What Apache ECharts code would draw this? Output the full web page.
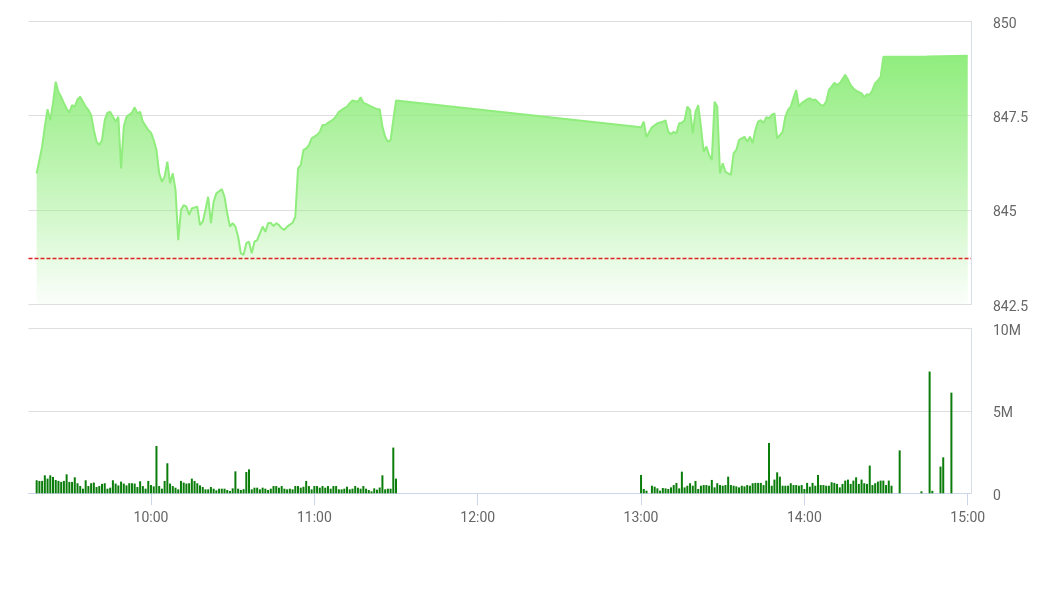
<!DOCTYPE html>
<html>
<head>
<meta charset="utf-8">
<script src="https://cdn.jsdelivr.net/npm/echarts@6/dist/echarts.min.js"></script>
<style>html,body{margin:0;padding:0;background:#fff;}#c{width:1056px;height:593px;}</style>
</head>
<body>
<div id="c"></div>
<script>
// ---- data ----
const prevClose = 843.72;
const priceTimes = ['09:18','09:20','09:21','09:22','09:23','09:24','09:25','09:26','09:27','09:28','09:29','09:30','09:31','09:32','09:33','09:34','09:35','09:36','09:37','09:38','09:39','09:40','09:41','09:42','09:43','09:44','09:45','09:46','09:47','09:48','09:49','09:50','09:51','09:53','09:54','09:55','09:56','09:57','09:59','10:00','10:01','10:02','10:03','10:04','10:05','10:06','10:07','10:08','10:09','10:10','10:11','10:12','10:13','10:14','10:15','10:17','10:18','10:19','10:20','10:21','10:22','10:23','10:24','10:26','10:27','10:28','10:29','10:30','10:31','10:32','10:33','10:34','10:35','10:36','10:37','10:38','10:39','10:40','10:41','10:42','10:43','10:44','10:45','10:46','10:47','10:48','10:49','10:50','10:52','10:53','10:54','10:55','10:56','10:57','10:58','10:59','11:01','11:02','11:03','11:04','11:05','11:07','11:08','11:09','11:10','11:12','11:13','11:14','11:16','11:17','11:18','11:19','11:21','11:23','11:24','11:25','11:26','11:27','11:28','11:29','11:30',
'13:00','13:01','13:02','13:03','13:04','13:06','13:08','13:09','13:10','13:11','13:12','13:13','13:14','13:15','13:16','13:17','13:18','13:19','13:20','13:21','13:22','13:23','13:24','13:25','13:26','13:27','13:28','13:29','13:30','13:31','13:32','13:33','13:34','13:35','13:36','13:37','13:38','13:39','13:40','13:41','13:42','13:43','13:44','13:45','13:46','13:47','13:48','13:49','13:50','13:52','13:53','13:54','13:55','13:56','13:57','13:58','13:59','14:01','14:02','14:03','14:04','14:06','14:07','14:08','14:09','14:10','14:11','14:12','14:13','14:15','14:16','14:17','14:18','14:19','14:21','14:22','14:23','14:24','14:25','14:26','14:27','14:28','14:29','14:45','15:00'];
const priceValues = [845.97,846.68,847.21,847.67,847.38,847.83,848.40,848.13,848.00,847.83,847.69,847.58,847.78,847.74,847.93,848.00,847.87,847.74,847.65,847.52,847.12,846.81,846.72,846.85,847.38,847.58,847.60,847.47,847.34,847.47,846.10,847.21,847.47,847.58,847.72,847.56,847.60,847.34,847.12,847.05,846.85,846.59,845.97,845.75,845.88,846.28,845.71,845.97,845.53,844.20,845.00,845.13,845.09,844.87,845.04,845.09,844.60,844.69,845.00,845.35,844.65,845.22,845.44,845.55,845.35,844.91,844.56,844.65,844.56,844.29,843.85,843.81,844.12,844.16,843.85,844.16,844.20,844.38,844.56,844.42,844.65,844.66,844.57,844.65,844.60,844.51,844.47,844.56,844.66,844.82,846.10,846.19,846.59,846.63,846.72,846.90,846.99,847.07,847.25,847.25,847.31,847.40,847.49,847.60,847.65,847.74,847.83,847.90,847.87,847.99,847.84,847.81,847.74,847.67,847.67,847.21,846.94,846.81,846.85,847.38,847.90,
847.19,847.34,846.93,847.07,847.19,847.30,847.34,847.37,847.07,847.01,847.07,847.03,847.30,847.31,847.38,847.74,847.65,847.03,847.60,847.78,847.21,846.54,846.68,846.46,846.32,847.87,847.74,845.97,846.24,846.01,845.97,845.93,846.50,846.59,846.85,846.90,846.94,846.81,846.94,846.77,847.12,847.34,847.38,847.30,847.46,847.43,847.52,847.56,846.90,847.07,847.47,847.65,847.74,847.97,848.18,847.74,847.83,847.93,847.96,847.91,847.93,847.78,847.76,847.87,848.18,848.27,848.37,848.31,848.36,848.58,848.46,848.31,848.22,848.16,848.09,847.99,848.07,848.05,848.18,848.36,848.43,848.53,849.06,849.07,849.09];

// volume in millions, one bar per minute
const volAmStart = '09:18';
const volAm = [0.79,0.75,0.75,1.09,0.89,1.09,0.99,0.81,0.75,0.69,
0.75,1.15,0.69,0.69,0.97,0.61,0.44,0.28,0.79,0.44,
0.61,0.65,0.38,0.44,0.57,0.61,0.28,0.34,0.79,0.59,
0.48,0.71,0.59,0.48,0.61,0.61,0.59,0.38,0.73,0.44,
0.28,0.75,0.50,0.42,
2.87,
0.44,0.28,0.75,
1.82,
0.59,0.44,0.34,0.24,0.75,0.65,0.59,0.61,0.89,0.75,0.61,0.48,0.38,0.24,0.24,0.38,0.28,0.18,0.28,0.28,0.28,0.20,0.14,0.30,
1.33,
0.28,0.20,0.25,
1.29,1.45,
0.24,0.34,0.34,0.24,0.34,0.28,0.20,0.28,0.44,0.44,0.34,0.44,0.28,0.24,0.28,0.24,0.44,0.44,0.34,0.40,
0.75,
0.44,0.24,0.44,0.44,0.34,0.44,0.34,0.44,0.28,0.44,0.44,0.24,0.24,0.28,0.40,0.24,0.28,0.44,0.34,0.28,0.44,0.28,0.20,0.12,0.30,0.22,0.35,
1.09,
0.24,0.28,0.28,
2.77,0.89];
const volPmStart = '13:00';
const volPm = [1.11,0.26,0.16,0,0.46,0.40,0.30,0.16,0.32,0.30,0.26,0.36,0.50,0.63,0.30,1.31,0.36,0.46,0.61,0.46,0.75,0.26,0.46,0.50,0.50,0.46,0.81,0.36,0.61,0.50,0.46,0.50,1.01,0.50,0.46,0.42,0.36,0.46,0.42,0.50,0.46,0.61,0.63,0.63,0.63,0.50,0.77,3.05,0.46,0.83,1.27,1.01,0.46,0.46,0.46,0.61,0.50,0.50,0.46,0.50,0.26,0.63,0.40,0.63,0.46,1.11,0.50,0.50,0.46,0.46,0.67,0.63,0.57,0.36,0.57,0.77,0.83,0.57,0.77,0.97,0.57,0.83,0.61,0.57,1.68,0.50,0.61,0.71,0.77,0.77,0.50,0.77,0.46];
const volLateTimes = ['14:35','14:43','14:46','14:47','14:50','14:51','14:54'];
const volLate = [2.60,0.12,7.38,0.15,1.62,2.18,6.10];

const hourTicks = ['10:00','11:00','12:00','13:00','14:00','15:00'];
const priceTicks = [842.5, 845, 847.5, 850];

// ---- build ----
const toMin = s => { const p = s.split(':').map(Number); return p[0]*60 + p[1]; };
const fmtMin = v => { const h = Math.floor(v/60), m = Math.round(v - h*60); return h + ':' + (m<10?'0':'') + m; };
const priceData = priceTimes.map((t,i) => [toMin(t), priceValues[i]]);
const volData = [];
volAm.forEach((v,i) => volData.push([toMin(volAmStart)+i, v]));
volPm.forEach((v,i) => volData.push([toMin(volPmStart)+i, v]));
volLateTimes.forEach((t,i) => volData.push([toMin(t), volLate[i]]));
const tickVals = hourTicks.map(toMin);

const xMin = toMin('09:15'), xMax = toMin('15:00') + 1.2;
const labelStyle = { color: '#666', fontSize: 14, fontFamily: 'Roboto' };

const chart = echarts.init(document.getElementById('c'));
chart.setOption({
  animation: false,
  backgroundColor: '#fff',
  grid: [
    { left: 28.5, right: 85, top: 21.3, height: 283, containLabel: false },
    { left: 28.5, right: 85, top: 328.3, height: 165, containLabel: false }
  ],
  xAxis: [
    { type: 'value', gridIndex: 0, min: xMin, max: xMax, show: false },
    { type: 'value', gridIndex: 1, min: xMin, max: xMax,
      axisLine: { show: true, lineStyle: { color: '#ccd6eb', width: 1 } },
      axisTick: { show: true, length: 12, customValues: tickVals, lineStyle: { color: '#ccd6eb' } },
      axisLabel: Object.assign({ customValues: tickVals, margin: 18, formatter: fmtMin }, labelStyle),
      splitLine: { show: false } }
  ],
  yAxis: [
    { type: 'value', gridIndex: 0, position: 'right', min: priceTicks[0], max: priceTicks[3], interval: 2.5,
      axisLine: { show: true, lineStyle: { color: '#d8dce3' } },
      axisTick: { show: false },
      axisLabel: Object.assign({ margin: 22, verticalAlign: 'top', lineHeight: 6 }, labelStyle),
      splitLine: { show: true, lineStyle: { color: '#dedede', width: 1 } } },
    { type: 'value', gridIndex: 1, position: 'right', min: 0, max: 10, interval: 5,
      axisLine: { show: true, lineStyle: { color: '#d8dce3' } },
      axisTick: { show: false },
      axisLabel: Object.assign({ margin: 22, verticalAlign: 'top', lineHeight: 6, formatter: v => v === 0 ? '0' : v + 'M' }, labelStyle),
      splitLine: { show: true, lineStyle: { color: '#dedede', width: 1 } } }
  ],
  series: [
    { type: 'line', xAxisIndex: 0, yAxisIndex: 0, data: priceData, showSymbol: false, smooth: false,
      lineStyle: { color: '#90ed7d', width: 2 },
      itemStyle: { color: '#90ed7d' },
      areaStyle: { origin: 'start', opacity: 1, color: new echarts.graphic.LinearGradient(0, 0, 0, 1, [
        { offset: 0, color: 'rgba(144,237,125,1)' },
        { offset: 0.45, color: 'rgba(144,237,125,0.6)' },
        { offset: 1, color: 'rgba(144,237,125,0.03)' }
      ]) },
      markLine: { silent: true, symbol: 'none', label: { show: false },
        lineStyle: { color: '#dd2222', type: [4, 2], width: 1.3 },
        data: [{ yAxis: prevClose }] } },
    { type: 'bar', xAxisIndex: 1, yAxisIndex: 1, data: volData, barWidth: 2,
      itemStyle: { color: '#0b7d0b' } }
  ]
});
</script>
</body>
</html>
